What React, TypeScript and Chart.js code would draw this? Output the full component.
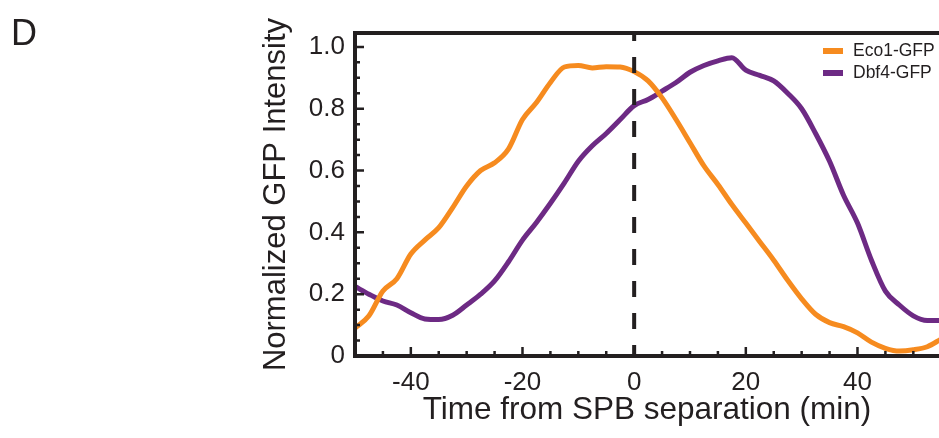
import React, { useEffect, useRef } from 'react';
import { Chart, registerables } from 'chart.js';

Chart.register(...registerables);

const TIMES = [
  -50, -47.5, -45, -42.5, -40, -37.5, -35, -32.5, -30, -27.5, -25, -22.5, -20, -17.5, -15, -12.5,
  -10, -7.5, -5, -2.5, 0, 2.5, 5, 7.5, 10, 12.5, 15, 17.5, 20, 22.5, 25, 27.5, 30, 32.5, 35, 37.5,
  40, 42.5, 45, 47.5, 50, 52.5, 55,
];
const ECO1 = [
  0.09, 0.13, 0.21, 0.25, 0.33, 0.375, 0.415, 0.48, 0.55, 0.6, 0.625, 0.67, 0.765, 0.82, 0.885, 0.935,
  0.94, 0.932, 0.936, 0.935, 0.92, 0.89, 0.835, 0.765, 0.69, 0.615, 0.555, 0.49, 0.43, 0.37, 0.31, 0.245,
  0.185, 0.135, 0.108, 0.095, 0.075, 0.045, 0.025, 0.016, 0.02, 0.03, 0.055,
];
const DBF4 = [
  0.225, 0.2, 0.178, 0.165, 0.14, 0.12, 0.118, 0.132, 0.165, 0.2, 0.243, 0.305, 0.375, 0.432, 0.494, 0.56,
  0.63, 0.68, 0.72, 0.765, 0.81, 0.83, 0.857, 0.885, 0.918, 0.94, 0.955, 0.965, 0.925, 0.908, 0.89, 0.85,
  0.8, 0.72, 0.63, 0.52, 0.43, 0.31, 0.21, 0.165, 0.13, 0.115, 0.115,
];
const SERIES_NAMES = ['Eco1-GFP', 'Dbf4-GFP'];
const SERIES_COLORS = ['#f68b1f', '#6d2a84'];
const X_TICKS = [-40, -20, 0, 20, 40];
const X_MINOR = [-45, -35, -30, -25, -15, -10, -5, 5, 10, 15, 25, 30, 35, 45, 50];
const Y_TICKS = [0, 0.2, 0.4, 0.6, 0.8, 1.0];
const Y_MINOR = [0.05, 0.1, 0.15, 0.25, 0.3, 0.35, 0.45, 0.5, 0.55, 0.65, 0.7, 0.75, 0.85, 0.9, 0.95];
const X_TITLE = 'Time from SPB separation (min)';
const Y_TITLE = 'Normalized GFP Intensity';
const PANEL = 'D';

const FONT = '"Liberation Sans", Arial, Helvetica, sans-serif';
const INK = '#231f20';

const framePlugin = {
  id: 'frame',
  afterDatasetsDraw(chart: any) {
    const { ctx, chartArea: a, scales } = chart;
    const x = scales.x;
    const y = scales.y;
    ctx.save();
    // dashed marker at separation time
    const px = x.getPixelForValue(0);
    ctx.strokeStyle = INK;
    ctx.lineWidth = 4;
    ctx.setLineDash([16, 16]);
    ctx.lineDashOffset = 8;
    ctx.beginPath();
    ctx.moveTo(px, a.top);
    ctx.lineTo(px, a.bottom);
    ctx.stroke();
    ctx.setLineDash([]);

    ctx.lineCap = 'butt';
    ctx.lineWidth = 4;
    ctx.beginPath();
    ctx.moveTo(a.left - 2, a.top);
    ctx.lineTo(a.right, a.top);
    ctx.moveTo(a.left, a.top - 2);
    ctx.lineTo(a.left, a.bottom + 2);
    ctx.moveTo(a.left - 2, a.bottom);
    ctx.lineTo(a.right, a.bottom);
    ctx.stroke();

    ctx.lineWidth = 2.5;
    ctx.beginPath();
    X_TICKS.forEach((v) => {
      const p = x.getPixelForValue(v);
      ctx.moveTo(p, a.bottom);
      ctx.lineTo(p, a.bottom - 9);
    });
    X_MINOR.forEach((v) => {
      const p = x.getPixelForValue(v);
      ctx.moveTo(p, a.bottom);
      ctx.lineTo(p, a.bottom - 5);
    });
    Y_TICKS.forEach((v) => {
      const p = y.getPixelForValue(v);
      ctx.moveTo(a.left, p);
      ctx.lineTo(a.left + 9, p);
    });
    Y_MINOR.forEach((v) => {
      const p = y.getPixelForValue(v);
      ctx.moveTo(a.left, p);
      ctx.lineTo(a.left + 5, p);
    });
    ctx.stroke();

    // legend
    const lx = a.right - 116;
    const rows = [51, 73];
    chart.data.datasets.forEach((ds: any, i: number) => {
      const ry = rows[i];
      ctx.strokeStyle = ds.borderColor;
      ctx.lineWidth = 6;
      ctx.beginPath();
      ctx.moveTo(lx, ry);
      ctx.lineTo(lx + 20, ry);
      ctx.stroke();
      ctx.fillStyle = INK;
      ctx.font = `17.5px ${FONT}`;
      ctx.textBaseline = 'middle';
      ctx.textAlign = 'left';
      ctx.fillText(ds.label, lx + 30, ry + 0.5);
    });
    ctx.restore();
  },
};

export default function App() {
  const ref = useRef<HTMLCanvasElement>(null);
  useEffect(() => {
    if (!ref.current) return;
    const datasets = [ECO1, DBF4].map((vals, i) => ({
      label: SERIES_NAMES[i],
      data: TIMES.map((t, j) => ({ x: t, y: vals[j] })),
      borderColor: SERIES_COLORS[i],
      backgroundColor: SERIES_COLORS[i],
      borderWidth: 5,
      pointRadius: 0,
      tension: 0.4,
      cubicInterpolationMode: 'monotone' as const,
      fill: false,
    }));
    const chart = new Chart(ref.current, {
      type: 'line',
      data: { datasets },
      plugins: [framePlugin],
      options: {
        animation: false,
        responsive: true,
        maintainAspectRatio: false,
        layout: { padding: { left: 240, top: 33, right: 0, bottom: 0 } },
        plugins: { legend: { display: false }, tooltip: { enabled: false } },
        scales: {
          x: {
            type: 'linear',
            min: -50,
            max: 54.6,
            afterBuildTicks: (s: any) => {
              s.ticks = X_TICKS.map((v) => ({ value: v }));
            },
            afterFit: (s: any) => {
              s.height = 82;
            },
            grid: { display: false },
            border: { display: false },
            ticks: {
              color: INK,
              font: { family: FONT, size: 26 },
              padding: 3,
              maxRotation: 0,
              callback: (v: any) => String(v),
            },
            title: {
              display: true,
              text: X_TITLE,
              color: INK,
              font: { family: FONT, size: 31.5 },
              padding: { top: 0, bottom: 9 },
            },
          },
          y: {
            type: 'linear',
            min: 0,
            max: 1.045,
            afterBuildTicks: (s: any) => {
              s.ticks = Y_TICKS.map((v) => ({ value: v }));
            },
            afterFit: (s: any) => {
              s.width = 115;
            },
            grid: { display: false },
            border: { display: false },
            ticks: {
              color: INK,
              font: { family: FONT, size: 26 },
              padding: 2,
              callback: (v: any) => (v === 0 ? '0' : Number(v).toFixed(1)),
            },
            title: {
              display: true,
              text: Y_TITLE,
              color: INK,
              font: { family: FONT, size: 31 },
              padding: { top: 18, bottom: 0 },
            },
          },
        },
      },
    });
    return () => chart.destroy();
  }, []);
  return (
    <div style={{ position: 'fixed', left: 0, top: 0, width: 939, height: 438, background: '#fff' }}>
      <canvas ref={ref} />
      <div
        style={{
          position: 'absolute',
          left: 11,
          top: 13,
          fontFamily: FONT,
          fontSize: 36,
          lineHeight: '40px',
          color: INK,
        }}
      >
        {PANEL}
      </div>
    </div>
  );
}
